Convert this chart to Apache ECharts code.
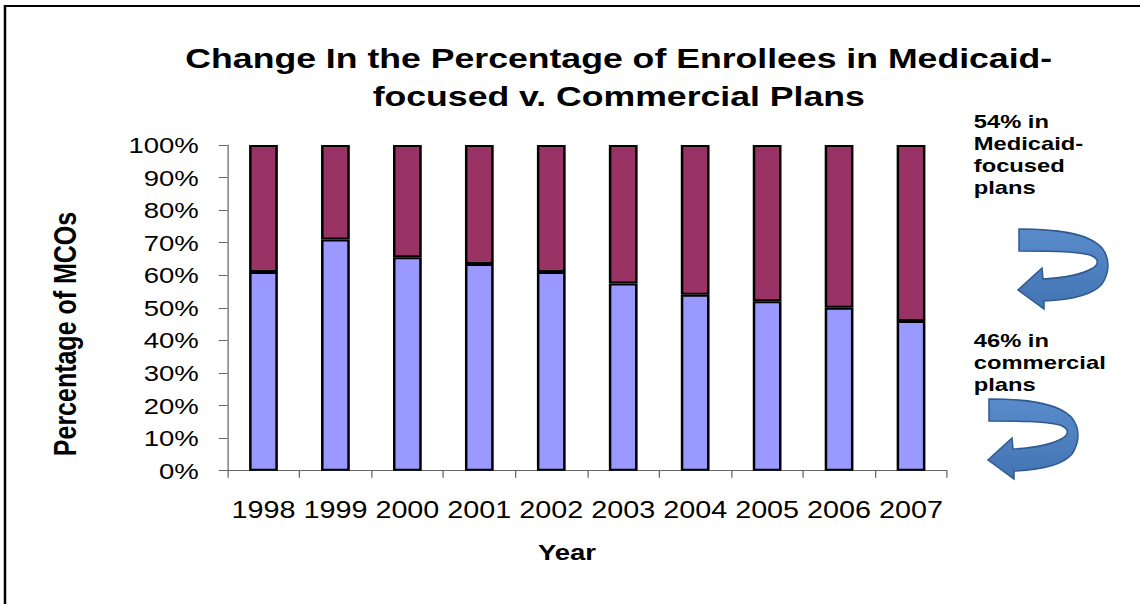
<!DOCTYPE html>
<html>
<head>
<meta charset="utf-8">
<script src="https://cdn.jsdelivr.net/npm/echarts@6/dist/echarts.min.js"></script>
<style>
  html, body { margin: 0; padding: 0; background: #fff; overflow: hidden; }
  /* the original picture is stretched sideways, so the chart is drawn narrower and scaled */
  #chart { width: 912px; height: 604px; transform: scaleX(1.25); transform-origin: 0 0; }
</style>
</head>
<body>
<div id="chart"></div>
<script>
var years = ['1998', '1999', '2000', '2001', '2002', '2003', '2004', '2005', '2006', '2007'];
// bottom (blue) share
var commercial = [61, 71, 65.5, 63.5, 61, 57.5, 54, 52, 50, 46];
// top (maroon) share
var medicaid = [39, 29, 34.5, 36.5, 39, 42.5, 46, 48, 50, 54];

var font = 'Liberation Sans, Arial, sans-serif';

// curved u-turn arrow used on the right side
var arrowPath = 'M 1 1 C 35 1, 70 4, 84 20 C 92 30, 92 44, 84 56 C 74 68, 50 72, 26 73 ' +
    'L 26 81 L 0 62 L 24 40 L 25 51 C 45 50, 65 46, 75 40 C 82 35, 80 30, 72 27 C 55 23, 30 23, 1 23 Z';
echarts.graphic.registerShape('uturnArrow', echarts.graphic.extendPath(arrowPath, {}));

var arrowStyle = function () {
    return {
        fill: new echarts.graphic.LinearGradient(0, 0, 0, 1, [
            { offset: 0, color: '#5a8bcb' },
            { offset: 1, color: '#4274b4' }
        ]),
        stroke: '#2f5a8f',
        lineWidth: 1.5
    };
};

var chart = echarts.init(document.getElementById('chart'), null, { renderer: 'svg' });

chart.setOption({
    backgroundColor: '#fff',
    animation: false,
    title: {
        text: 'Change In the Percentage of Enrollees in Medicaid-\nfocused v. Commercial Plans',
        left: 490,
        textAlign: 'center',
        top: 34,
        textStyle: {
            fontFamily: font,
            fontWeight: 'bold',
            fontSize: 28.5,
            lineHeight: 38,
            color: '#000'
        }
    },
    grid: {
        left: 182,
        right: 154.4,
        top: 145,
        bottom: 133.3
    },
    xAxis: {
        type: 'category',
        data: years,
        boundaryGap: true,
        axisLine: { lineStyle: { color: '#666', width: 1 } },
        axisTick: { show: true, length: 7, lineStyle: { color: '#666' } },
        axisLabel: {
            interval: 0,
            hideOverlap: false,
            margin: 28,
            fontFamily: font,
            fontSize: 23,
            color: '#000'
        }
    },
    yAxis: {
        type: 'value',
        min: 0,
        max: 100,
        interval: 10,
        splitLine: { show: false },
        axisLine: { show: true, lineStyle: { color: '#666', width: 1 } },
        axisTick: { show: true, length: 7, lineStyle: { color: '#666' } },
        axisLabel: {
            margin: 23,
            formatter: '{value}%',
            fontFamily: font,
            fontSize: 22,
            color: '#000'
        }
    },
    series: [
        {
            name: 'Commercial',
            type: 'bar',
            stack: 'total',
            barWidth: 23,
            data: commercial,
            itemStyle: { color: '#9999ff', borderColor: '#000', borderWidth: 2 }
        },
        {
            name: 'Medicaid-focused',
            type: 'bar',
            stack: 'total',
            barWidth: 23,
            data: medicaid,
            itemStyle: { color: '#993366', borderColor: '#000', borderWidth: 2 }
        }
    ],
    graphic: [
        {
            type: 'rect',
            silent: true,
            shape: { x: 4, y: 6, width: 1000, height: 700 },
            style: { fill: 'none', stroke: '#000', lineWidth: 2 }
        },
        {
            type: 'text',
            x: 52,
            y: 334,
            rotation: Math.PI / 2,
            style: {
                text: 'Percentage of MCOs',
                font: 'bold 25px ' + font,
                fill: '#000',
                align: 'center',
                verticalAlign: 'middle'
            }
        },
        {
            type: 'text',
            x: 453.6,
            y: 552,
            style: {
                text: 'Year',
                font: 'bold 22px ' + font,
                fill: '#000',
                align: 'center',
                verticalAlign: 'middle'
            }
        },
        {
            type: 'text',
            x: 779,
            y: 110.5,
            style: {
                text: '54% in\nMedicaid-\nfocused\nplans',
                font: 'bold 19px ' + font,
                lineHeight: 22,
                fill: '#000',
                align: 'left',
                verticalAlign: 'top'
            }
        },
        {
            type: 'text',
            x: 779,
            y: 329.5,
            style: {
                text: '46% in\ncommercial\nplans',
                font: 'bold 19px ' + font,
                lineHeight: 22,
                fill: '#000',
                align: 'left',
                verticalAlign: 'top'
            }
        },
        {
            type: 'uturnArrow',
            x: 814.4,
            y: 228,
            scaleX: 0.8,
            style: arrowStyle()
        },
        {
            type: 'uturnArrow',
            x: 790.4,
            y: 398,
            scaleX: 0.8,
            style: arrowStyle()
        }
    ]
});
</script>
</body>
</html>
